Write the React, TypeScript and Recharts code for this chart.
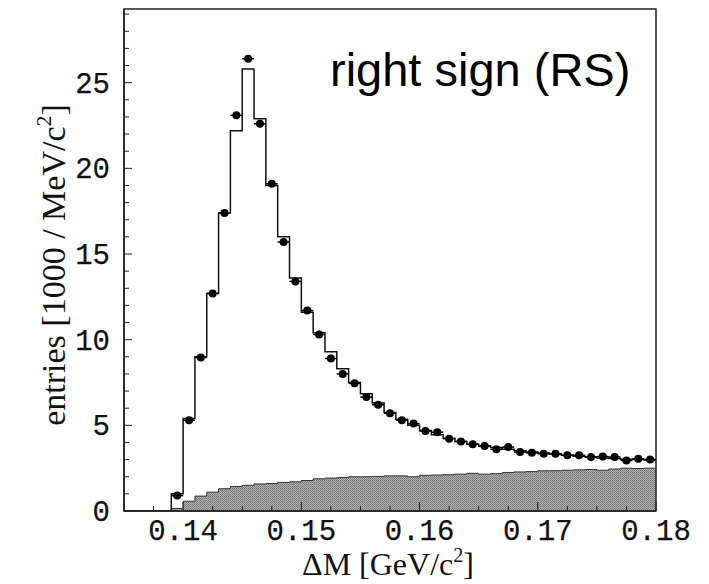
import React from "react";
import {
  ComposedChart,
  Line,
  Area,
  Scatter,
  XAxis,
  YAxis,
  ReferenceArea,
  Label,
} from "recharts";

// Histogram bin lower edges (GeV/c^2), bin width 0.001
const binStarts = [
  0.135, 0.136, 0.137, 0.138, 0.139, 0.14, 0.141, 0.142, 0.143, 0.144, 0.145,
  0.146, 0.147, 0.148, 0.149, 0.15, 0.151, 0.152, 0.153, 0.154, 0.155, 0.156,
  0.157, 0.158, 0.159, 0.16, 0.161, 0.162, 0.163, 0.164, 0.165, 0.166, 0.167,
  0.168, 0.169, 0.17, 0.171, 0.172, 0.173, 0.174, 0.175, 0.176, 0.177, 0.178,
  0.179,
];
const histEnd = 0.18;

// Total fit / MC histogram (open line), in 1000 / MeV/c^2
const totalMC = [
  0, 0, 0, 0, 1.0, 5.4, 9.0, 12.7, 17.4, 22.2, 25.8, 22.9, 19.0, 16.0, 13.6,
  11.6, 10.4, 9.3, 8.3, 7.5, 6.85, 6.3, 5.75, 5.35, 5.0, 4.7, 4.45, 4.25, 4.05,
  3.9, 3.8, 3.7, 3.6, 3.52, 3.45, 3.38, 3.32, 3.26, 3.2, 3.15, 3.1, 3.06, 3.02,
  3.0, 2.98,
];

// Background (shaded histogram)
const background = [
  0, 0, 0, 0, 0.15, 0.57, 0.87, 1.1, 1.3, 1.43, 1.5, 1.58, 1.6, 1.67, 1.7,
  1.78, 1.88, 1.92, 1.95, 2.0, 2.0, 2.02, 2.05, 2.05, 2.0, 2.08, 2.1, 2.12,
  2.15, 2.2, 2.15, 2.18, 2.25, 2.28, 2.3, 2.35, 2.35, 2.38, 2.4, 2.42, 2.38,
  2.45, 2.5, 2.48, 2.5,
];

// Data points (bin centres)
const dataCenters = [
  0.1395, 0.1405, 0.1415, 0.1425, 0.1435, 0.1445, 0.1455, 0.1465, 0.1475,
  0.1485, 0.1495, 0.1505, 0.1515, 0.1525, 0.1535, 0.1545, 0.1555, 0.1565,
  0.1575, 0.1585, 0.1595, 0.1605, 0.1615, 0.1625, 0.1635, 0.1645, 0.1655,
  0.1665, 0.1675, 0.1685, 0.1695, 0.1705, 0.1715, 0.1725, 0.1735, 0.1745,
  0.1755, 0.1765, 0.1775, 0.1785, 0.1795,
];
const dataValues = [
  0.9, 5.3, 8.96, 12.7, 17.4, 23.1, 26.4, 22.6, 19.1, 15.7, 13.4, 11.7, 10.3,
  8.9, 8.0, 7.45, 6.65, 6.2, 5.7, 5.3, 5.1, 4.67, 4.6, 4.22, 4.06, 3.9, 3.8,
  3.6, 3.73, 3.44, 3.4, 3.34, 3.34, 3.25, 3.25, 3.15, 3.18, 3.15, 2.95, 3.05,
  3.0,
];

// Axis ticks
const xTicks = [
  0.135, 0.1375, 0.14, 0.1425, 0.145, 0.1475, 0.15, 0.1525, 0.155, 0.1575,
  0.16, 0.1625, 0.165, 0.1675, 0.17, 0.1725, 0.175, 0.1775, 0.18,
];
const xLabelTicks = [0.14, 0.15, 0.16, 0.17, 0.18];
const yTicks = [
  0, 1, 2, 3, 4, 5, 6, 7, 8, 9, 10, 11, 12, 13, 14, 15, 16, 17, 18, 19, 20, 21,
  22, 23, 24, 25, 26, 27, 28, 29,
];
const yLabelTicks = [0, 5, 10, 15, 20, 25];

const X_MIN = 0.135;
const X_MAX = 0.18;
const Y_MAX = 29.3;

const histRows = binStarts
  .map((x, i) => ({ x, total: totalMC[i], bg: background[i] }))
  .concat([
    {
      x: histEnd,
      total: totalMC[totalMC.length - 1],
      bg: background[background.length - 1],
    },
  ]);

const points = dataCenters.map((x, i) => ({ x, v: dataValues[i] }));

const MONO = "'Liberation Mono', 'DejaVu Sans Mono', monospace";
const SERIF = "'Liberation Serif', 'DejaVu Serif', serif";
const SANS = "'Liberation Sans', Arial, sans-serif";

const Y_TICK_MARGIN = 14;

const YTick = (props: any) => {
  const { x, y, payload } = props;
  const v = payload.value;
  const major = yLabelTicks.includes(v);
  const lx = x + Y_TICK_MARGIN;
  return (
    <g>
      <line x1={lx} x2={lx + (major ? 8 : 5)} y1={y} y2={y} stroke="#222" strokeWidth={1} />
      {major && (
        <text
          x={x}
          y={y}
          dy={10}
          textAnchor="end"
          fontFamily={MONO}
          fontSize={29}
          fill="#111"
          stroke="#111"
          strokeWidth={0.25}
        >
          {v}
        </text>
      )}
    </g>
  );
};

const XTick = (props: any) => {
  const { x, y, payload } = props;
  const v = payload.value;
  const major = xLabelTicks.some((t) => Math.abs(t - v) < 1e-9);
  return (
    <g>
      <line x1={x} x2={x} y1={y} y2={y - (major ? 9 : 5)} stroke="#222" strokeWidth={1} />
      {major && (
        <text
          x={x}
          y={y + 29}
          textAnchor="middle"
          fontFamily={MONO}
          fontSize={29}
          fill="#111"
          stroke="#111"
          strokeWidth={0.25}
        >
          {v.toFixed(2)}
        </text>
      )}
    </g>
  );
};

const XTitle = (props: any) => {
  const vb = props.viewBox || {};
  const cx = vb.x + vb.width / 2 - 2;
  const y = vb.y + 64;
  return (
    <text x={cx} y={y} textAnchor="middle" fontFamily={SERIF} fontSize={32} fill="#111">
      <tspan>ΔM [GeV/c</tspan>
      <tspan fontSize={20} dy={-13}>2</tspan>
      <tspan dy={13}>]</tspan>
    </text>
  );
};

const YTitle = (props: any) => {
  const vb = props.viewBox || {};
  const cx = 46;
  const cy = vb.y + vb.height / 2 + 5;
  return (
    <text
      x={cx}
      y={cy}
      textAnchor="middle"
      transform={`rotate(-90 ${cx} ${cy})`}
      fontFamily={SERIF}
      fontSize={34}
      fill="#111"
      dy={11}
    >
      <tspan>entries [1000 / MeV/c</tspan>
      <tspan fontSize={22} dy={-14}>2</tspan>
      <tspan dy={14}>]</tspan>
    </text>
  );
};

const RSLabel = (props: any) => {
  const vb = props.viewBox || {};
  return (
    <text x={vb.x + 206} y={vb.y + 77} fontFamily={SANS} fontSize={47} fill="#000">
      right sign (RS)
    </text>
  );
};

const DataPoint = (props: any) => {
  const { cx, cy } = props;
  if (cx == null || cy == null) return null;
  return (
    <g>
      <line x1={cx - 6} x2={cx + 6} y1={cy} y2={cy} stroke="#000" strokeWidth={1.5} />
      <circle cx={cx} cy={cy} r={4} fill="#000" />
    </g>
  );
};

export default function App() {
  return (
    <div style={{ width: 700, height: 576 }}>
      <ComposedChart
        width={700}
        height={576}
        data={histRows}
        margin={{ top: 1, right: 52, bottom: 0, left: 0 }}
      >
        <defs>
          <pattern id="bgFill" width="2" height="2" patternUnits="userSpaceOnUse">
            <rect width="2" height="2" fill="#b0b0b0" />
            <rect width="1" height="1" fill="#767676" />
            <rect x="1" y="1" width="1" height="1" fill="#858585" />
          </pattern>
        </defs>
        <XAxis
          dataKey="x"
          type="number"
          domain={[X_MIN, X_MAX]}
          ticks={xTicks}
          interval={0}
          allowDataOverflow
          height={73}
          tickSize={0}
          tickMargin={0}
          tickLine={false}
          axisLine={{ stroke: "#222", strokeWidth: 1.5 }}
          tick={<XTick />}
        >
          <Label content={<XTitle />} />
        </XAxis>
        <YAxis
          type="number"
          domain={[0, Y_MAX]}
          ticks={yTicks}
          interval={0}
          allowDataOverflow
          width={116}
          tickSize={0}
          tickMargin={Y_TICK_MARGIN}
          tickLine={false}
          axisLine={{ stroke: "#222", strokeWidth: 1.5 }}
          tick={<YTick />}
        >
          <Label content={<YTitle />} />
        </YAxis>
        <Area
          type="stepAfter"
          dataKey="bg"
          fill="url(#bgFill)"
          fillOpacity={1}
          stroke="#333"
          strokeWidth={1}
          isAnimationActive={false}
          dot={false}
          activeDot={false}
        />
        <Line
          type="stepAfter"
          dataKey="total"
          stroke="#111"
          strokeWidth={1.5}
          dot={false}
          activeDot={false}
          isAnimationActive={false}
        />
        <Scatter
          data={points}
          dataKey="v"
          shape={<DataPoint />}
          isAnimationActive={false}
        />
        <ReferenceArea
          x1={X_MIN}
          x2={X_MAX}
          y1={0}
          y2={Y_MAX}
          fill="none"
          fillOpacity={0}
          stroke="#222"
          strokeWidth={1.5}
          ifOverflow="visible"
        >
          <Label content={<RSLabel />} />
        </ReferenceArea>
      </ComposedChart>
    </div>
  );
}
